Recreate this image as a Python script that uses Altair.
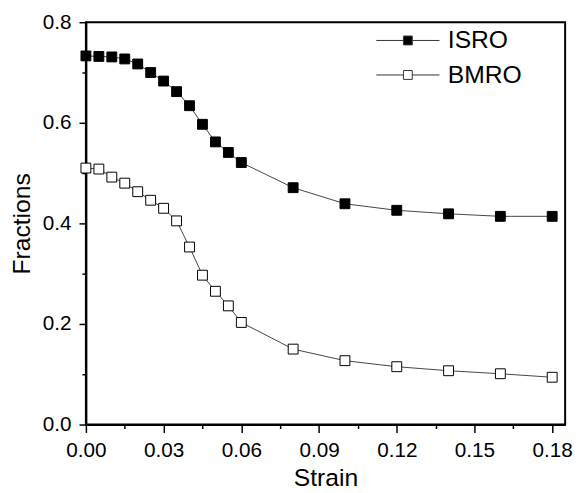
import altair as alt
import pandas as pd

strain = [0.0, 0.005, 0.01, 0.015, 0.02, 0.025, 0.03, 0.035, 0.04, 0.045,
          0.05, 0.055, 0.06, 0.08, 0.10, 0.12, 0.14, 0.16, 0.18]
isro = [0.733, 0.732, 0.731, 0.727, 0.717, 0.700, 0.683, 0.662, 0.634, 0.597,
        0.562, 0.541, 0.521, 0.471, 0.439, 0.426, 0.419, 0.414, 0.414]
bmro = [0.510, 0.508, 0.492, 0.480, 0.463, 0.446, 0.430, 0.405, 0.353, 0.297,
        0.265, 0.236, 0.203, 0.150, 0.127, 0.115, 0.107, 0.101, 0.094]
series_names = ["ISRO", "BMRO"]
x_ticks = [0.0, 0.015, 0.03, 0.045, 0.06, 0.075, 0.09, 0.105, 0.12, 0.135, 0.15, 0.165, 0.18]
y_ticks = [0.0, 0.1, 0.2, 0.3, 0.4, 0.5, 0.6, 0.7, 0.8]

df = pd.concat([
    pd.DataFrame({"Strain": strain, "Fraction": isro, "Series": "ISRO"}),
    pd.DataFrame({"Strain": strain, "Fraction": bmro, "Series": "BMRO"}),
])

FONT = "Liberation Sans"
legend_path = "M-2,0H-0.28M0.28,0H2M-0.28,-0.28H0.28V0.28H-0.28Z"

x_enc = alt.X(
    "Strain:Q",
    scale=alt.Scale(domain=[0, 0.185], nice=False, zero=False),
    axis=alt.Axis(
        title="Strain", values=x_ticks,
        labelExpr="round(datum.value*1000) % 30 == 0 ? format(datum.value, '.2f') : ''",
        tickSize={"condition": {"test": "round(datum.value*1000) % 30 == 0", "value": 8}, "value": 4},
        labelOverlap=False, labelFlush=False, grid=False, labelPadding=7, titlePadding=6,
    ),
)
y_enc = alt.Y(
    "Fraction:Q",
    scale=alt.Scale(domain=[0, 0.8], nice=False),
    axis=alt.Axis(
        title="Fractions", values=y_ticks,
        labelExpr="round(datum.value*10) % 2 == 0 ? format(datum.value, '.1f') : ''",
        tickSize={"condition": {"test": "round(datum.value*10) % 2 == 0", "value": 7}, "value": 4},
        labelOverlap=False, labelFlush=False, grid=False, labelPadding=8, titlePadding=8,
    ),
)

lines = alt.Chart(df).mark_line(color="#444", strokeWidth=1).encode(
    x=x_enc, y=y_enc, detail="Series:N", order="Strain:Q"
)
points = alt.Chart(df).mark_point(
    shape="square", filled=True, size=100, stroke="black", strokeWidth=1, opacity=1
).encode(
    x=x_enc, y=y_enc,
    fill=alt.Fill(
        "Series:N",
        scale=alt.Scale(domain=series_names, range=["black", "white"]),
        legend=alt.Legend(
            title=None, orient="none", legendX=310, legendY=2,
            symbolType=legend_path, symbolSize=1024,
            symbolStrokeColor="#333", symbolStrokeWidth=1,
            labelFont=FONT, labelFontSize=25, labelColor="black",
            labelOffset=24, rowPadding=5,
        ),
    ),
)

chart = alt.layer(lines, points).properties(
    width=486, height=408,
    autosize=alt.AutoSizeParams(type="none"),
    padding={"left": 79, "top": 11, "right": 10, "bottom": 66},
).configure_view(
    stroke="black", strokeWidth=2
).configure_axis(
    domainColor="black", domainWidth=2, tickColor="black", tickWidth=1.5,
    labelFont=FONT, labelFontSize=21, labelColor="black",
    titleFont=FONT, titleFontSize=25, titleFontWeight="normal", titleColor="black",
)

chart.save("out.html", embed_options={"renderer": "svg", "actions": False})
